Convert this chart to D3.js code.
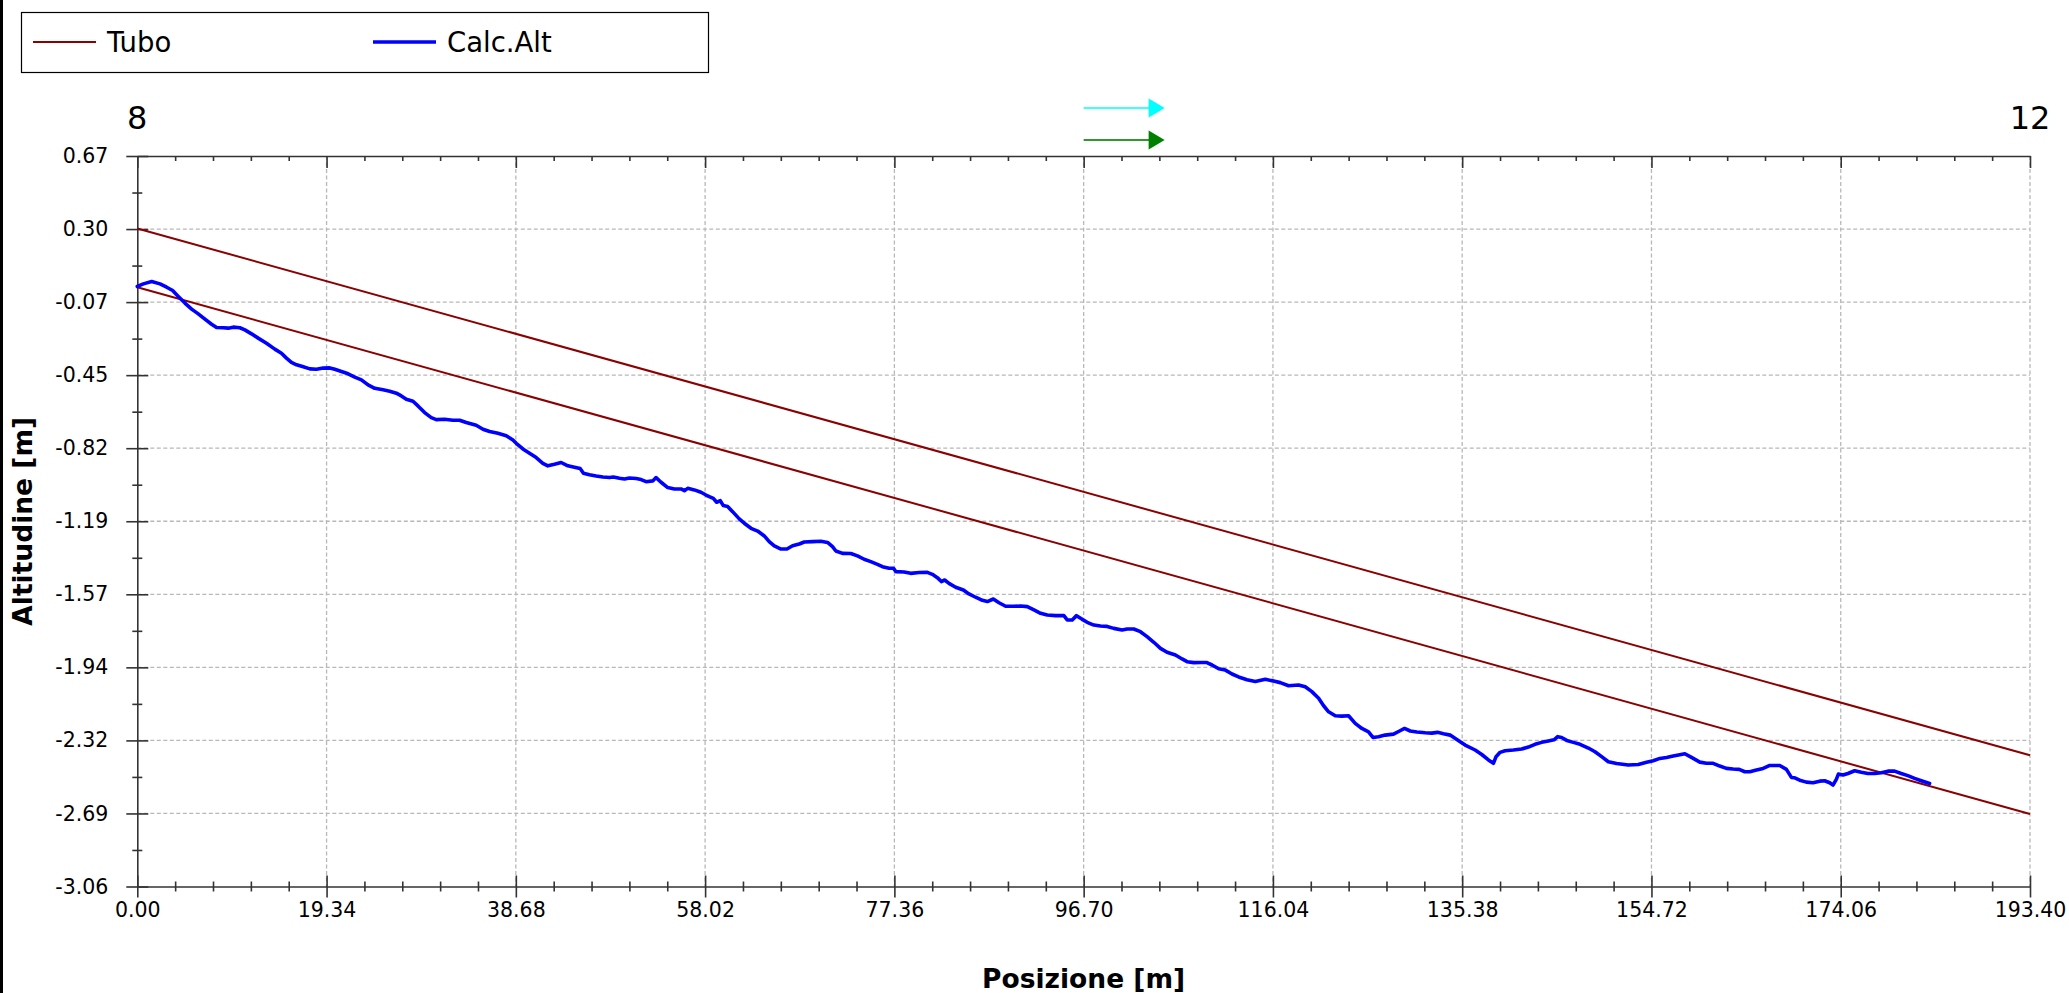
<!DOCTYPE html>
<html>
<head>
<meta charset="utf-8">
<script src="https://cdn.jsdelivr.net/npm/d3@7/dist/d3.min.js"></script>
<style>
  body { margin: 0; background: #fff; }
  svg { display: block; font-family: "DejaVu Sans", sans-serif; }
</style>
</head>
<body>
<svg id="chart" width="2069" height="993"></svg>
<script>
// Calc.Alt profile
const posizione = [
  0.00, 0.62, 1.47, 2.32, 3.00, 3.61, 4.19, 4.87, 5.55, 6.23, 6.91, 7.59, 8.10, 8.78, 9.29, 9.80,
  10.48, 10.99, 11.67, 12.35, 13.20, 14.05, 14.73, 15.24, 15.75, 16.27, 16.88, 17.63, 18.31, 18.99,
  19.67, 20.18, 20.86, 21.54, 22.22, 22.90, 23.58, 24.26, 25.11, 25.79, 26.47, 26.98, 27.49, 28.17,
  28.68, 29.36, 30.04, 30.55, 31.40, 32.25, 32.93, 33.61, 34.63, 35.32, 36.00, 36.85, 37.70, 38.38,
  38.72, 39.40, 40.08, 40.76, 41.44, 41.95, 42.63, 43.31, 43.99, 44.67, 45.25, 45.59, 46.20, 46.89,
  47.57, 48.25, 48.65, 49.27, 49.78, 50.29, 50.97, 51.48, 51.99, 52.67, 53.01, 53.52, 54.20, 54.88,
  55.56, 55.90, 56.24, 56.92, 57.60, 58.11, 58.45, 58.86, 59.20, 59.57, 59.88, 60.32, 60.83, 61.51,
  62.02, 62.71, 63.39, 64.07, 64.57, 65.09, 65.77, 66.38, 66.96, 67.64, 68.15, 69.00, 69.85, 70.53,
  71.04, 71.38, 72.06, 72.91, 73.59, 74.27, 74.95, 75.63, 76.14, 76.82, 77.27, 77.50, 78.35, 79.03,
  79.88, 80.73, 81.24, 81.75, 82.16, 82.50, 82.94, 83.62, 84.41, 84.98, 85.66, 86.35, 86.86, 87.47,
  88.05, 88.73, 89.58, 90.26, 90.94, 91.62, 92.30, 92.98, 93.83, 94.68, 95.02, 95.53, 95.97, 96.55,
  97.06, 97.74, 98.42, 99.10, 99.78, 100.63, 101.14, 101.82, 102.50, 103.18, 103.87, 104.55, 105.22,
  106.08, 106.76, 107.27, 107.95, 108.63, 109.24, 109.82, 110.50, 111.18, 111.86, 112.54, 113.39,
  114.24, 115.26, 116.11, 116.79, 117.64, 118.66, 119.34, 120.02, 120.71, 121.22, 121.73, 122.41,
  123.09, 123.77, 124.45, 125.13, 125.81, 126.26, 126.83, 127.51, 128.36, 128.98, 129.49, 130.07,
  130.75, 131.60, 132.28, 132.86, 133.47, 134.15, 134.83, 135.68, 136.70, 137.38, 138.06, 138.57,
  138.84, 139.25, 139.76, 140.61, 141.46, 142.14, 142.82, 143.50, 144.18, 144.76, 145.14, 145.54,
  146.06, 146.74, 147.42, 148.27, 148.95, 149.63, 150.31, 151.16, 152.35, 153.37, 154.22, 154.90,
  155.58, 156.26, 156.94, 157.62, 158.13, 158.81, 159.66, 160.34, 161.02, 161.70, 162.38, 163.06,
  163.68, 164.26, 164.77, 165.45, 166.13, 166.81, 167.32, 167.83, 168.51, 169.02, 169.36, 169.87,
  170.55, 171.23, 171.91, 172.42, 172.93, 173.27, 173.61, 173.82, 174.29, 174.80, 175.48, 176.16,
  176.84, 177.53, 178.21, 178.89, 179.56, 180.24, 180.92, 181.61, 182.29, 183.14
]
const altitudine = [
  0.004, 0.017, 0.029, 0.017, 0.000, -0.017, -0.047, -0.081, -0.112, -0.136, -0.163, -0.189, -0.206, -0.207, -0.209, -0.204,
  -0.207, -0.218, -0.238, -0.260, -0.286, -0.316, -0.337, -0.362, -0.384, -0.396, -0.405, -0.417, -0.419, -0.413,
  -0.412, -0.419, -0.430, -0.442, -0.459, -0.473, -0.499, -0.516, -0.524, -0.531, -0.541, -0.555, -0.572, -0.582,
  -0.606, -0.640, -0.666, -0.676, -0.674, -0.679, -0.679, -0.691, -0.705, -0.725, -0.737, -0.746, -0.758, -0.780,
  -0.797, -0.826, -0.848, -0.870, -0.899, -0.912, -0.904, -0.895, -0.912, -0.919, -0.926, -0.950, -0.958, -0.964,
  -0.969, -0.972, -0.969, -0.975, -0.979, -0.974, -0.977, -0.982, -0.993, -0.989, -0.972, -0.996, -1.023, -1.030,
  -1.030, -1.039, -1.027, -1.035, -1.047, -1.061, -1.069, -1.078, -1.098, -1.090, -1.115, -1.120, -1.146, -1.183,
  -1.205, -1.231, -1.245, -1.270, -1.299, -1.321, -1.337, -1.337, -1.320, -1.311, -1.301, -1.299, -1.297, -1.303,
  -1.325, -1.347, -1.359, -1.360, -1.372, -1.389, -1.401, -1.415, -1.427, -1.435, -1.435, -1.452, -1.454, -1.461,
  -1.457, -1.456, -1.466, -1.483, -1.503, -1.495, -1.512, -1.532, -1.546, -1.566, -1.583, -1.599, -1.605, -1.592,
  -1.611, -1.629, -1.629, -1.628, -1.631, -1.648, -1.665, -1.674, -1.677, -1.677, -1.699, -1.699, -1.677, -1.696,
  -1.711, -1.725, -1.730, -1.732, -1.742, -1.750, -1.745, -1.745, -1.759, -1.784, -1.813, -1.844, -1.864,
  -1.878, -1.898, -1.912, -1.917, -1.916, -1.916, -1.929, -1.948, -1.955, -1.975, -1.990, -2.004,
  -2.013, -2.002, -2.011, -2.019, -2.035, -2.031, -2.040, -2.065, -2.099, -2.137, -2.168, -2.188,
  -2.190, -2.188, -2.227, -2.253, -2.270, -2.299, -2.295, -2.287, -2.282, -2.266, -2.253, -2.266,
  -2.271, -2.275, -2.277, -2.273, -2.280, -2.287, -2.309, -2.338, -2.363, -2.386, -2.414, -2.431,
  -2.397, -2.375, -2.367, -2.363, -2.358, -2.348, -2.334, -2.324, -2.317, -2.311, -2.295, -2.299,
  -2.314, -2.324, -2.334, -2.353, -2.372, -2.397, -2.423, -2.432, -2.440, -2.437, -2.426, -2.418,
  -2.406, -2.401, -2.394, -2.387, -2.382, -2.401, -2.425, -2.431, -2.431, -2.445, -2.457, -2.460,
  -2.462, -2.474, -2.474, -2.465, -2.457, -2.442, -2.442, -2.442, -2.462, -2.503, -2.505, -2.517,
  -2.527, -2.530, -2.522, -2.520, -2.530, -2.542, -2.513, -2.486, -2.491, -2.483, -2.469, -2.477,
  -2.483, -2.483, -2.479, -2.471, -2.471, -2.483, -2.494, -2.508, -2.520, -2.534
]

// the two Tubo lines (top and bottom of the pipe)
const tuboPos = [0, 193.4]
const tuboSopra = [0.30, -2.39]
const tuboSotto = [0.00, -2.69]

const xTickLabels = ['0.00', '19.34', '38.68', '58.02', '77.36', '96.70', '116.04', '135.38', '154.72', '174.06', '193.40']
const yTickLabels = ['-3.06', '-2.69', '-2.32', '-1.94', '-1.57', '-1.19', '-0.82', '-0.45', '-0.07', '0.30', '0.67']
const topLabels = ['8', '12']
const topLabelPos = [0, 193.4]
const arrowStart = 96.7

const xMin = 0, xMax = 193.4
const yMin = -3.06, yMax = 0.67

const margin = {left: 137.3, right: 2030, top: 156, bottom: 886.5}

const svg = d3.select('#chart')
svg.append('rect').attr('width', 2069).attr('height', 993).attr('fill', '#fff')
svg.append('rect').attr('width', 3).attr('height', 993).attr('fill', '#000')

const x = d3.scaleLinear().domain([xMin, xMax]).range([margin.left, margin.right])
const y = d3.scaleLinear().domain([yMin, yMax]).range([margin.bottom, margin.top])

const xMajor = xTickLabels.map((d, i) => xMin + i * (xMax - xMin) / (xTickLabels.length - 1))
const yMajor = yTickLabels.map((d, i) => yMin + i * (yMax - yMin) / (yTickLabels.length - 1))
const xStep = xMajor[1] - xMajor[0]
const yStep = yMajor[1] - yMajor[0]
const xMinor = []
xMajor.slice(0, -1).forEach((v) => {
  for (let k = 1; k < 5; k++) xMinor.push(v + k * xStep / 5)
})
const yMinor = yMajor.slice(0, -1).map((v) => v + yStep / 2)

// grid
const grid = svg.append('g')
  .attr('stroke', '#b8b8b8')
  .attr('stroke-width', 1.3)
  .attr('stroke-dasharray', '4,2.5')
grid.selectAll('line.gx').data(xMajor.slice(1)).enter()
  .append('line').attr('class', 'gx')
  .attr('x1', (d) => x(d)).attr('x2', (d) => x(d))
  .attr('y1', y(yMax)).attr('y2', y(yMin))
grid.selectAll('line.gy').data(yMajor.slice(1, -1)).enter()
  .append('line').attr('class', 'gy')
  .attr('x1', x(xMin)).attr('x2', x(xMax))
  .attr('y1', (d) => y(d)).attr('y2', (d) => y(d))

// axes
const axisColor = '#333'
const bottomAxis = svg.append('g')
  .attr('transform', `translate(0,${y(yMin)})`)
  .attr('color', axisColor)
  .call(d3.axisBottom(x).tickValues(xMajor).tickSizeOuter(0)
    .tickFormat((d, i) => xTickLabels[i]))
bottomAxis.selectAll('.tick line').attr('y1', -11).attr('y2', 11)
bottomAxis.selectAll('.tick text').attr('y', 16).attr('font-size', 20.5).attr('fill', '#000')
  .attr('font-family', 'DejaVu Sans')
svg.append('g')
  .attr('transform', `translate(0,${y(yMin)})`)
  .attr('color', axisColor)
  .call(d3.axisBottom(x).tickValues(xMinor).tickFormat('').tickSizeOuter(0))
  .call((g) => g.select('.domain').remove())
  .selectAll('.tick line').attr('y1', -5).attr('y2', 5)

const topAxis = svg.append('g')
  .attr('transform', `translate(0,${y(yMax)})`)
  .attr('color', axisColor)
  .call(d3.axisTop(x).tickValues(xMajor).tickFormat('').tickSizeOuter(0))
topAxis.selectAll('.tick line').attr('y1', 0).attr('y2', 12)
svg.append('g')
  .attr('transform', `translate(0,${y(yMax)})`)
  .attr('color', axisColor)
  .call(d3.axisTop(x).tickValues(xMinor).tickFormat('').tickSizeOuter(0))
  .call((g) => g.select('.domain').remove())
  .selectAll('.tick line').attr('y1', 0).attr('y2', 5)

const leftAxis = svg.append('g')
  .attr('transform', `translate(${x(xMin)},0)`)
  .attr('color', axisColor)
  .call(d3.axisLeft(y).tickValues(yMajor).tickSizeOuter(0)
    .tickFormat((d, i) => yTickLabels[i]))
leftAxis.selectAll('.tick line').attr('x1', -11).attr('x2', 11)
leftAxis.selectAll('.tick text').attr('x', -29).attr('font-size', 20.5).attr('fill', '#000')
  .attr('font-family', 'DejaVu Sans')
svg.append('g')
  .attr('transform', `translate(${x(xMin)},0)`)
  .attr('color', axisColor)
  .call(d3.axisLeft(y).tickValues(yMinor).tickFormat('').tickSizeOuter(0))
  .call((g) => g.select('.domain').remove())
  .selectAll('.tick line').attr('x1', -5).attr('x2', 5)

svg.selectAll('.domain, .tick line').attr('stroke-width', 1.6)

// top labels
svg.selectAll('text.toplab').data(topLabels).enter()
  .append('text').attr('class', 'toplab')
  .attr('x', (d, i) => x(topLabelPos[i]))
  .attr('y', y(yMax) - 27)
  .attr('text-anchor', 'middle')
  .attr('font-size', 32)
  .text((d) => d)

// arrows
const arrows = [{color: '#00ffff', head: '#00ffff', dy: -48, w: 1.4}, {color: '#2e9a2e', head: '#008000', dy: -16, w: 1.8}]
arrows.forEach((a) => {
  const x0 = x(arrowStart)
  const yy = y(yMax) + a.dy
  svg.append('line')
    .attr('x1', x0).attr('x2', x0 + 66)
    .attr('y1', yy).attr('y2', yy)
    .attr('stroke', a.color).attr('stroke-width', a.w)
  svg.append('path')
    .attr('d', `M${x0 + 65},${yy - 9.5}L${x0 + 81},${yy}L${x0 + 65},${yy + 9.5}Z`)
    .attr('fill', a.head)
})

// lines
const line = d3.line().x((d) => x(d[0])).y((d) => y(d[1]))
const tuboColor = '#8b0000'
;[tuboSopra, tuboSotto].forEach((t) => {
  svg.append('path')
    .datum(tuboPos.map((p, i) => [p, t[i]]))
    .attr('d', line)
    .attr('fill', 'none')
    .attr('stroke', tuboColor)
    .attr('stroke-width', 2)
})
svg.append('path')
  .datum(posizione.map((p, i) => [p, altitudine[i]]))
  .attr('d', line)
  .attr('fill', 'none')
  .attr('stroke', '#0000ff')
  .attr('stroke-width', 3.6)
  .attr('stroke-linejoin', 'round')
  .attr('stroke-linecap', 'round')

// axis titles
svg.append('text')
  .attr('x', x((xMin + xMax) / 2)).attr('y', 988)
  .attr('text-anchor', 'middle')
  .attr('font-size', 26.5).attr('font-weight', 'bold')
  .text('Posizione [m]')
svg.append('text')
  .attr('transform', `translate(32,${y((yMin + yMax) / 2)}) rotate(-90)`)
  .attr('text-anchor', 'middle')
  .attr('font-size', 26.5).attr('font-weight', 'bold')
  .text('Altitudine [m]')

// legend
const legend = svg.append('g')
legend.append('rect')
  .attr('x', 21.5).attr('y', 12.5).attr('width', 687).attr('height', 60)
  .attr('fill', '#fff').attr('stroke', '#000').attr('stroke-width', 1.2)
const legendItems = [
  {name: 'Tubo', color: tuboColor, w: 2, x: 33},
  {name: 'Calc.Alt', color: '#0000ff', w: 3.5, x: 373},
]
legendItems.forEach((it) => {
  legend.append('line')
    .attr('x1', it.x).attr('x2', it.x + 63)
    .attr('y1', 42).attr('y2', 42)
    .attr('stroke', it.color).attr('stroke-width', it.w)
  legend.append('text')
    .attr('x', it.x + 74).attr('y', 52)
    .attr('font-size', 27.5)
    .text(it.name)
})
</script>
</body>
</html>
